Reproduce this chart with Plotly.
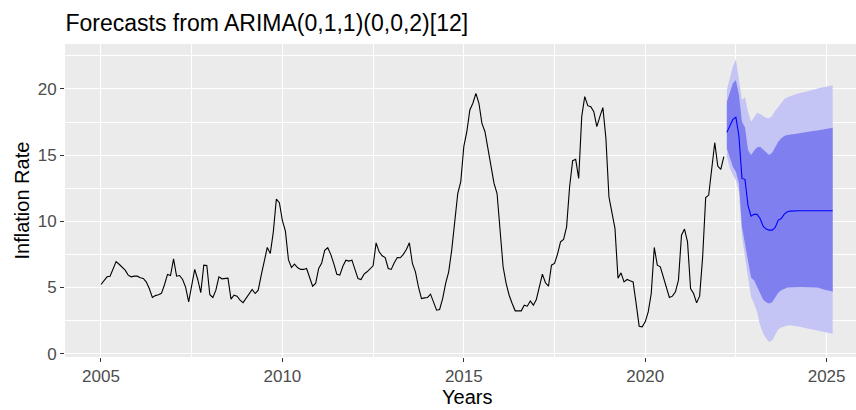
import plotly.graph_objects as go

# ---------------- data ----------------
start_year = 2005
actual = [
    5.22, 5.5, 5.8, 5.85, 6.4, 6.95, 6.75, 6.55, 6.3, 5.93, 5.8, 5.85,
    5.85, 5.73, 5.68, 5.4, 4.9, 4.24, 4.38, 4.45, 4.55, 5.2, 5.98, 5.9,
    7.16, 5.85, 5.9, 5.6, 5.0, 3.91, 5.3, 6.36, 5.6, 4.6, 6.68, 6.66,
    4.45, 4.24, 4.79, 5.8, 5.65, 5.65, 5.7, 4.11, 4.41, 4.34, 4.04, 3.85,
    4.2, 4.55, 4.84, 4.54, 4.79, 5.93, 6.94, 8.02, 7.57, 9.2, 11.68, 11.4,
    10.05, 9.25, 7.1, 6.5, 6.76, 6.5, 6.36, 6.36, 6.43, 5.7, 5.09, 5.3,
    6.43, 6.85, 7.8, 8.0, 7.5, 6.8, 6.0, 5.93, 6.6, 7.06, 6.99, 7.06,
    6.3, 5.67, 5.6, 6.0, 6.18, 6.4, 6.63, 8.37, 7.69, 7.39, 7.26, 6.43,
    6.36, 6.86, 7.26, 7.24, 7.5, 7.87, 8.37, 6.81, 6.18, 5.04, 4.16, 4.21,
    4.24, 4.49, 3.91, 3.28, 3.33, 4.16, 5.3, 6.18, 7.82, 9.84, 12.1, 12.99,
    15.64, 16.77, 18.41, 18.92, 19.67, 18.92, 17.4, 16.77, 15.51, 14.38, 12.86, 12.1,
    9.33, 6.56, 5.3, 4.41, 3.78, 3.23, 3.23, 3.23, 3.66, 3.58, 3.98, 3.66,
    4.09, 4.99, 6.0, 5.35, 5.09, 6.68, 6.81, 7.52, 8.45, 8.63, 9.58, 12.61,
    14.58, 14.68, 13.24, 17.91, 19.42, 18.74, 18.66, 18.29, 17.15, 17.91, 18.59, 16.27,
    11.85, 10.65, 9.46, 5.7, 6.1, 5.42, 5.6, 5.5, 5.42, 3.78, 2.07, 2.02,
    2.4, 3.15, 4.54, 8.02, 6.68, 6.56, 5.8, 4.92, 4.24, 4.34, 4.67, 5.55,
    8.95, 9.41, 8.45, 4.92, 4.54, 3.83, 4.34, 7.31, 11.8, 11.98, 14.0, 15.94,
    14.17, 13.92, 14.88,
]

point_fc = [
    16.72, 17.28, 17.70, 17.86, 16.45, 13.24, 13.17, 11.2, 10.39, 10.52, 10.52, 10.21,
    9.63, 9.41, 9.33, 9.33, 9.53, 10.09, 10.21, 10.54, 10.72, 10.77, 10.79, 10.79,
    10.79, 10.79, 10.79, 10.79, 10.79, 10.79, 10.79, 10.79, 10.79, 10.79, 10.79, 10.79,
]
hi80 = [
    19.04, 19.8, 20.43, 20.68, 19.55, 17.53, 17.1, 15.38, 15.0, 15.33, 15.59, 15.64,
    15.43, 15.18, 15.0, 15.18, 15.59, 16.02, 16.27, 16.44, 16.52, 16.57, 16.6, 16.62,
    16.65, 16.7, 16.72, 16.75, 16.8, 16.85, 16.87, 16.92, 16.97, 17.02, 17.05, 17.07,
]
hi95 = [
    19.92, 20.93, 21.69, 22.24, 20.68, 19.17, 19.37, 18.28, 17.53, 17.91, 18.21, 18.11,
    17.96, 17.81, 17.78, 17.96, 18.36, 18.66, 18.97, 19.22, 19.37, 19.47, 19.55, 19.62,
    19.67, 19.72, 19.8, 19.85, 19.92, 19.97, 20.03, 20.08, 20.13, 20.18, 20.23, 20.28,
]
lo80 = [
    15.51, 14.75, 14.12, 13.75, 12.86, 9.58, 8.32, 7.06, 5.75, 5.55, 5.09, 4.54,
    4.09, 3.88, 3.78, 3.88, 4.24, 4.59, 4.79, 4.92, 4.99, 5.02, 5.04, 5.04,
    5.04, 5.04, 5.04, 5.04, 5.04, 5.04, 4.99, 4.92, 4.84, 4.79, 4.74, 4.67,
]
lo95 = [
    14.88, 14.0, 13.49, 13.11, 12.23, 8.83, 7.31, 5.8, 4.29, 3.78, 3.15, 2.14,
    1.51, 1.13, 0.88, 1.01, 1.39, 1.82, 1.97, 2.07, 2.12, 2.14, 2.12, 2.07,
    2.02, 1.97, 1.92, 1.87, 1.82, 1.77, 1.72, 1.67, 1.62, 1.59, 1.54, 1.49,
]

x_ticks = [2005, 2010, 2015, 2020, 2025]
y_ticks = [0, 5, 10, 15, 20]
title_text = "Forecasts from ARIMA(0,1,1)(0,0,2)[12]"
x_title = "Years"
y_title = "Inflation Rate"

# ---------------- build ----------------
t_act = [start_year + i / 12 for i in range(len(actual))]
t_fc = [start_year + (len(actual) + i) / 12 for i in range(len(point_fc))]

LIGHT = "#C4C4F5"
DARK = "#7F7FEF"

fig = go.Figure()
fig.add_trace(go.Scatter(x=t_fc, y=lo95, mode="lines", line=dict(width=0),
                         hoverinfo="skip", showlegend=False))
fig.add_trace(go.Scatter(x=t_fc, y=hi95, mode="lines", line=dict(width=0),
                         fill="tonexty", fillcolor=LIGHT, showlegend=False))
fig.add_trace(go.Scatter(x=t_fc, y=lo80, mode="lines", line=dict(width=0),
                         hoverinfo="skip", showlegend=False))
fig.add_trace(go.Scatter(x=t_fc, y=hi80, mode="lines", line=dict(width=0),
                         fill="tonexty", fillcolor=DARK, showlegend=False))
fig.add_trace(go.Scatter(x=t_act, y=actual, mode="lines",
                         line=dict(color="black", width=1.1), showlegend=False))
fig.add_trace(go.Scatter(x=t_fc, y=point_fc, mode="lines",
                         line=dict(color="#0000FF", width=1.1), showlegend=False))

FONT = "Liberation Sans, Arial, sans-serif"
fig.update_layout(
    width=856, height=410,
    margin=dict(l=65, r=0, t=44, b=53, pad=0),
    paper_bgcolor="white", plot_bgcolor="#EBEBEB",
    font=dict(family=FONT, color="#4D4D4D"),
    title=dict(text=title_text, x=65.5 / 856, xanchor="left", xref="container",
               y=1 - 23 / 410, yanchor="middle", yref="container",
               font=dict(size=23, color="black", family=FONT)),
    showlegend=False,
)
fig.update_xaxes(
    range=[2004.008, 2025.81], tickmode="array", tickvals=x_ticks,
    ticktext=[str(v) for v in x_ticks],
    ticks="outside", ticklen=4, tickwidth=1.07, tickcolor="#333333",
    tickfont=dict(size=17, color="#4D4D4D", family=FONT),
    showgrid=True, gridcolor="white", gridwidth=1.1, zeroline=False, showline=False,
    minor=dict(tickvals=[2007.5, 2012.5, 2017.5, 2022.5], showgrid=True,
               gridcolor="white", gridwidth=0.55, ticks=""),
)
fig.update_yaxes(
    range=[-0.26, 23.4], tickmode="array", tickvals=y_ticks,
    ticktext=[str(v) for v in y_ticks],
    ticks="outside", ticklen=4, tickwidth=1.07, tickcolor="#333333",
    tickfont=dict(size=17, color="#4D4D4D", family=FONT),
    showgrid=True, gridcolor="white", gridwidth=1.1, zeroline=False, showline=False,
    minor=dict(tickvals=[2.5, 7.5, 12.5, 17.5, 22.5], showgrid=True,
               gridcolor="white", gridwidth=0.55, ticks=""),
)
fig.add_annotation(text=x_title, xref="x", yref="paper",
                   x=2015.1, y=(357 - 397) / 313,
                   xanchor="center", yanchor="middle", showarrow=False,
                   font=dict(size=20, color="black", family=FONT))
fig.add_annotation(text=y_title, xref="paper", yref="paper",
                   x=(21 - 65) / 791, y=0.5, textangle=-90,
                   xanchor="center", yanchor="middle", showarrow=False,
                   font=dict(size=20, color="black", family=FONT))

fig.write_html("out.html")
